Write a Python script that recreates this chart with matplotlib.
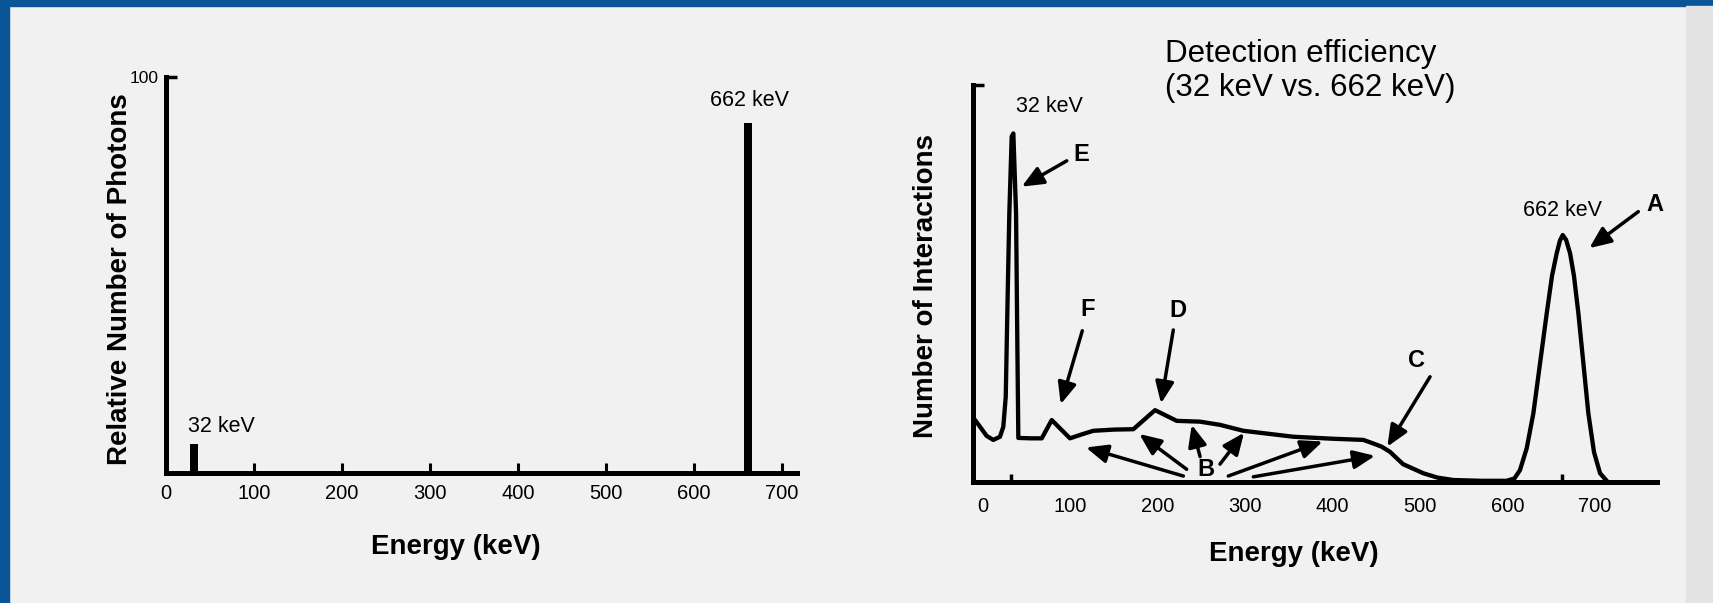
import matplotlib.pyplot as plt
from matplotlib.patches import Rectangle

plt.rcParams['font.family'] = ['Liberation Sans', 'DejaVu Sans']

# left panel: photons emitted by the source
line_kev = [32, 662]
line_rel = [7.3, 88.4]
line_names = ['32 keV', '662 keV']
tick_kev = [0, 100, 200, 300, 400, 500, 600, 700]

spec_kev = [-11.8, -3.4, 4.2, 11.8, 19.4, 23.2, 26.0, 27.8, 30.1, 32.8, 34.7, 37.8, 39.3, 40.4,
            55, 67.2, 78.6, 99.5, 113, 126.2, 150, 172, 196.8, 221.6, 248.3, 271.1, 297.8,
            355, 400, 435.1, 446.5, 456, 465.6, 480.5, 503.7, 520, 538, 570, 599, 608, 614.3,
            622, 629.6, 637, 644.9, 651, 656.3, 660, 663.2, 667, 671.6, 676, 681.1, 687,
            692.5, 699, 705.9, 713.5]
spec_counts = [16.4, 13.9, 11.6, 10.6, 11.4, 13.9, 21.5, 42.5, 67.7, 87.0, 87.8, 67.7, 34.1, 11.1,
               11.0, 11.0, 15.6, 11.0, 12.0, 12.9, 13.2, 13.3, 18.1, 15.4, 15.2, 14.4, 12.9,
               11.4, 10.9, 10.6, 9.7, 8.9, 7.6, 4.5, 2.2, 1.1, 0.5, 0.3, 0.3, 0.9, 3.0,
               8.5, 17.3, 29.5, 42.5, 52, 57.6, 60.8, 62.2, 61, 57.6, 52, 42.5, 29.5,
               17.3, 7.5, 2.2, 0.3]
peak_kev = [32, 662]

# letter callouts: (letter, letter pos, [(arrow tail, arrow head), ...]) in right-panel data units
callouts = [
    ('E', (112.9, 82.6), [((95.8, 80.9), (44.3, 74.4))]),
    ('F', (119.8, 43.5), [((113.6, 38.1), (88.9, 19.6))]),
    ('D', (222.7, 43.3), [((217.7, 38.3), (203.6, 19.8))]),
    ('C', (496.2, 30.7), [((511.4, 26.5), (462.5, 8.9))]),
    ('A', (768.8, 69.8), [((749.7, 68.1), (693.6, 58.9))]),
    ('B', (255.1, 3.2), [((229.2, 1.5), (117.8, 8.7)),
                          ((233.0, 3.2), (178.8, 12.1)),
                          ((248.3, 6.4), (238.8, 14.4)),
                          ((271.1, 4.5), (298.6, 12.4)),
                          ((280.6, 1.5), (388.6, 10.2)),
                          ((309.2, 1.3), (448.5, 6.6))]),
]

W, H = 1713, 603
fig = plt.figure(figsize=(W / 100, H / 100), dpi=100)
fig.patch.set_facecolor('#f1f1f1')

# blue frame on the left and top, darker paper edge on the right
fig.patches.append(Rectangle((0, 0), 9 / W, 1, transform=fig.transFigure, color='#0a5597'))
fig.patches.append(Rectangle((0, 1 - 6 / H), 1, 6 / H, transform=fig.transFigure, color='#0a5597'))
fig.patches.append(Rectangle((1686 / W, 0), 27 / W, 1 - 6 / H, transform=fig.transFigure, color='#e3e3e3'))


def style(ax):
    ax.set_facecolor('none')
    for s in ['top', 'right']:
        ax.spines[s].set_visible(False)
    for s in ['left', 'bottom']:
        ax.spines[s].set_linewidth(3.6)
        ax.spines[s].set_color('k')


# ---- left: emitted photons ----
ax1 = fig.add_axes([166 / W, 1 - 473.3 / H, 630.7 / W, 396.6 / H])
style(ax1)
ax1.bar(line_kev, line_rel, width=9, color='k', zorder=3)
ax1.set_xlim(0, 717)
ax1.set_ylim(0, 100)
ax1.set_xticks(tick_kev)
ax1.set_xticklabels([str(t) for t in tick_kev])
ax1.tick_params(axis='x', direction='in', length=7, width=2.2, labelsize=14.5, pad=8)
ax1.set_yticks([100])
ax1.set_yticklabels(['100'])
ax1.tick_params(axis='y', direction='in', length=8, width=2.5, labelsize=12.5, pad=5)
ax1.text(25, 11.7, line_names[0], fontsize=15.5, ha='left', va='center')
ax1.text(662.8, 94, line_names[1], fontsize=15.5, ha='center', va='center')
ax1.set_xlabel('Energy (keV)', fontsize=20, fontweight='bold', va='center')
ax1.xaxis.set_label_coords(0.46, -0.185)
ax1.set_ylabel('Relative Number of Photons', fontsize=20, fontweight='bold', va='center')
ax1.yaxis.set_label_coords(-0.073, 0.49)

# ---- right: detected spectrum ----
ax2 = fig.add_axes([972.7 / W, 1 - 482 / H, 684 / W, 397 / H])
style(ax2)
ax2.plot(spec_kev, spec_counts, color='k', lw=3.1, solid_joinstyle='round', zorder=3)
ax2.set_xlim(-11.8, 770.7)
ax2.set_ylim(0, 100)
ax2.set_xticks(tick_kev)
ax2.set_xticklabels([str(t) for t in tick_kev])
ax2.tick_params(axis='x', which='major', length=0, labelsize=14.5, pad=11)
ax2.set_xticks(peak_kev, minor=True)
ax2.tick_params(axis='x', which='minor', direction='in', length=6, width=2.5)
ax2.set_yticks([100])
ax2.set_yticklabels([])
ax2.tick_params(axis='y', direction='in', length=8, width=2.5)
ax2.text(37.8, 94.7, '32 keV', fontsize=15.5, ha='left', va='center')
ax2.text(663, 68.5, '662 keV', fontsize=15.5, ha='center', va='center')
ax2.set_xlabel('Energy (keV)', fontsize=20, fontweight='bold', va='center')
ax2.xaxis.set_label_coords(0.47, -0.181)
ax2.set_ylabel('Number of Interactions', fontsize=20, fontweight='bold', va='center')
ax2.yaxis.set_label_coords(-0.069, 0.494)

for letter, pos, arrows in callouts:
    ax2.text(pos[0], pos[1], letter, fontsize=17, fontweight='bold', ha='center', va='center',
             clip_on=False)
    for tail, head in arrows:
        ax2.annotate('', xy=head, xytext=tail, annotation_clip=False,
                     arrowprops=dict(arrowstyle='-|>,head_length=0.65,head_width=0.28',
                                     color='k', lw=2.5, mutation_scale=20,
                                     shrinkA=0, shrinkB=0))

fig.text(1164.7 / W, 1 - 71 / H, 'Detection efficiency\n(32 keV vs. 662 keV)',
         fontsize=22.5, ha='left', va='center', linespacing=1.2)

fig.savefig('out.png', dpi=100, facecolor=fig.get_facecolor())
